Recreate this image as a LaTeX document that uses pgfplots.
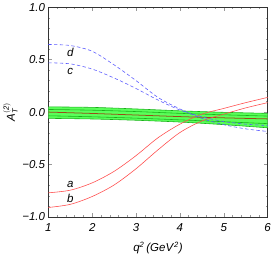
\documentclass[border=0pt]{standalone}
\usepackage{fontspec}
\setmainfont{Liberation Sans}
\usepackage{pgfplots}
\pgfplotsset{compat=1.18}
\definecolor{rline}{rgb}{1,0.3,0.3}
\definecolor{bline}{rgb}{0.35,0.35,1}
\definecolor{gfill}{rgb}{0.35,1,0.35}
\definecolor{gdark}{rgb}{0.1,0.7,0.1}
\definecolor{brn}{rgb}{0.6,0.3,0.1}
\begin{document}
\begin{tikzpicture}
\begin{axis}[
  scale only axis, width=229pt, height=219pt,
  xmin=1, xmax=6, ymin=-1, ymax=1,
  xtick={1,2,3,4,5,6}, xticklabels={1,2,3,4,5,6},
  ytick={-1,-0.5,0,0.5,1}, yticklabels={−1.0,−0.5,0.0,0.5,1.0},
  minor x tick num=4, minor y tick num=4,
  tick align=inside, major tick length=4pt, minor tick length=2pt,
  tick style={gray!80, line width=0.4pt},
  ticklabel style={font=\fontsize{12}{14}\selectfont\itshape},
  xticklabel style={yshift=-3pt},
  xlabel={\fontsize{12}{14}\selectfont $\mathit{q}^{\mathit{2}}$\,\textit{(GeV}$^{\mathit{2}}$\textit{)}},
  ylabel={\fontsize{12}{14}\selectfont $\mathit{A}_{\mathit{T}}^{\mathit{(2)}}$},
  xlabel style={yshift=-4pt},
  ylabel style={yshift=-2pt},
  axis line style={black!80, line width=0.5pt},
  clip=true,
]
% green band
\addplot[draw=none, fill=gfill, forget plot] coordinates {
 (1,0.05) (2,0.045) (3,0.03) (4,0.012) (5,-0.002) (6,-0.012)
 (6,-0.15) (5,-0.12) (4,-0.095) (3,-0.078) (2,-0.066) (1,-0.06) } -- cycle;
\addplot[gdark, line width=0.6pt, smooth] coordinates {(1,0.05) (2,0.045) (3,0.03) (4,0.012) (5,-0.002) (6,-0.012)};
\addplot[gdark, line width=0.6pt, smooth] coordinates {(1,0.025) (2,0.018) (3,0.005) (4,-0.012) (5,-0.026) (6,-0.038)};
\addplot[gdark, line width=0.6pt, smooth] coordinates {(1,-0.035) (2,-0.045) (3,-0.058) (4,-0.074) (5,-0.092) (6,-0.11)};
\addplot[gdark, line width=0.6pt, smooth] coordinates {(1,-0.06) (2,-0.066) (3,-0.078) (4,-0.095) (5,-0.12) (6,-0.15)};
\addplot[brn, line width=0.8pt, smooth] coordinates {(1,0.0) (2,-0.013) (3,-0.028) (4,-0.043) (5,-0.055) (6,-0.065)};
% red curves
\addplot[rline, line width=0.6pt, smooth] coordinates {
 (1,-0.77) (1.5,-0.745) (2,-0.675) (2.5,-0.565) (3,-0.415) (3.5,-0.245) (4,-0.115) (4.5,-0.02) (5,0.035) (5.5,0.09) (6,0.14)};
\addplot[rline, line width=0.6pt, smooth] coordinates {
 (1,-0.91) (1.5,-0.88) (2,-0.805) (2.5,-0.695) (3,-0.54) (3.5,-0.36) (4,-0.195) (4.5,-0.085) (5,-0.02) (5.5,0.04) (6,0.09)};
% blue dashed curves
\addplot[bline, line width=0.6pt, dash pattern=on 3.5pt off 2.5pt, smooth] coordinates {
 (1,0.645) (1.5,0.635) (2,0.58) (2.5,0.45) (3,0.30) (3.5,0.14) (4,0.03) (4.5,-0.06) (5,-0.12) (5.5,-0.16) (6,-0.185)};
\addplot[bline, line width=0.6pt, dash pattern=on 3.5pt off 2.5pt, smooth] coordinates {
 (1,0.47) (1.5,0.46) (2,0.41) (2.5,0.325) (3,0.225) (3.5,0.115) (4,0.02) (4.5,-0.045) (5,-0.09) (5.5,-0.115) (6,-0.128)};
\node[font=\fontsize{12}{14}\selectfont\itshape] at (axis cs:1.5,0.57) {d};
\node[font=\fontsize{12}{14}\selectfont\itshape] at (axis cs:1.5,0.39) {c};
\node[font=\fontsize{12}{14}\selectfont\itshape] at (axis cs:1.5,-0.69) {a};
\node[font=\fontsize{12}{14}\selectfont\itshape] at (axis cs:1.5,-0.82) {b};
\end{axis}
\path ([xshift=-41pt,yshift=-50pt]current axis.south west) rectangle ([xshift=4pt,yshift=5pt]current axis.north east);
\end{tikzpicture}
\end{document}
